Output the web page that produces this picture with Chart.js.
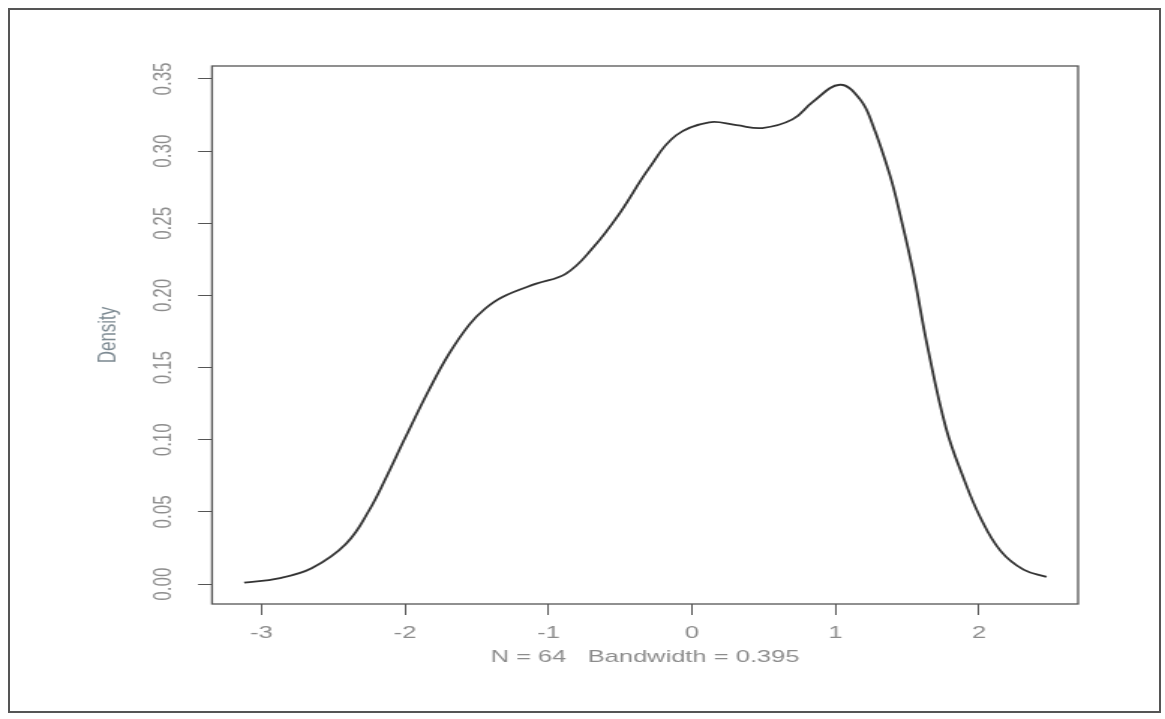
<!DOCTYPE html>
<html>
<head>
<meta charset="utf-8">
<script src="https://cdn.jsdelivr.net/npm/chart.js@4.4.1/dist/chart.umd.min.js"></script>
<style>
  html, body { margin: 0; padding: 0; background: #fff; }
  body { width: 1165px; height: 719px; position: relative; overflow: hidden; }
  #frame {
    position: absolute; left: 8px; top: 8px; width: 1153px; height: 705px;
    border: 2px solid #555; box-sizing: border-box;
  }
  /* the scan is stretched sideways, so the chart is drawn narrow and widened */
  #densityChart {
    position: absolute; left: 0; top: 0;
    transform: scaleX(1.49936); transform-origin: 0 0;
  }
</style>
</head>
<body>
<div id="frame"></div>
<canvas id="densityChart" width="777" height="719"></canvas>
<script>
// ── Data ──────────────────────────────────────────────────────────────────────
const densityX = [
  -3.12, -2.88, -2.65, -2.41, -2.25, -2.13, -2.00, -1.83, -1.69, -1.55,
  -1.44, -1.32, -1.09, -0.88, -0.69, -0.51, -0.30, -0.11, 0.12, 0.31,
  0.49, 0.70, 0.84, 1.03, 1.17, 1.26, 1.38, 1.45, 1.54, 1.64,
  1.77, 1.89, 2.01, 2.15, 2.31, 2.47,
];
const densityY = [
  0.001, 0.004, 0.011, 0.028, 0.051, 0.074, 0.101, 0.135, 0.160, 0.180,
  0.191, 0.199, 0.208, 0.215, 0.233, 0.256, 0.288, 0.311, 0.320, 0.318,
  0.316, 0.322, 0.334, 0.346, 0.336, 0.318, 0.283, 0.256, 0.217, 0.165,
  0.108, 0.074, 0.046, 0.023, 0.010, 0.005,
];
const xTicks = [-3, -2, -1, 0, 1, 2];
const yTicks = [0, 0.05, 0.10, 0.15, 0.20, 0.25, 0.30, 0.35];
const xLabel = 'N = 64   Bandwidth = 0.395';
const yLabel = 'Density';

const TEXT_FONT = 'Liberation Sans, Arial, sans-serif';
const TEXT_COLOR = '#8c8c8c';
const LINE_COLOR = '#555';

// ── Plugins ───────────────────────────────────────────────────────────────────

// R draws a full box round the plot region
const boxPlugin = {
  id: 'plotBox',
  afterDraw(chart) {
    const { ctx, chartArea: a } = chart;
    ctx.save();
    ctx.strokeStyle = LINE_COLOR;
    ctx.lineWidth = 1.3;
    ctx.strokeRect(a.left, a.top, a.right - a.left, a.bottom - a.top);
    ctx.restore();
  },
};

// y tick labels read bottom-to-top like R's default las=0
const yLabelPlugin = {
  id: 'rotatedYLabels',
  afterDraw(chart) {
    const { ctx, scales } = chart;
    const y = scales.y;
    ctx.save();
    ctx.fillStyle = TEXT_COLOR;
    ctx.font = `17px ${TEXT_FONT}`;
    ctx.textAlign = 'center';
    ctx.textBaseline = 'middle';
    yTicks.forEach(v => {
      ctx.save();
      ctx.translate(109.5, y.getPixelForValue(v));
      ctx.rotate(-Math.PI / 2);
      ctx.fillText(v.toFixed(2), 0, 0);
      ctx.restore();
    });
    ctx.restore();
  },
};

// ── Chart ─────────────────────────────────────────────────────────────────────

new Chart(document.getElementById('densityChart').getContext('2d'), {
  type: 'line',
  data: {
    datasets: [{
      data: densityX.map((x, i) => ({ x, y: densityY[i] })),
      borderColor: '#333',
      borderWidth: 1.8,
      pointRadius: 0,
      fill: false,
      tension: 0.4,
    }],
  },
  plugins: [boxPlugin, yLabelPlugin],
  options: {
    responsive: false,
    animation: false,
    events: [],
    layout: { padding: { left: 0, top: 66, right: 58, bottom: 0 } },
    plugins: { legend: { display: false }, tooltip: { enabled: false } },
    scales: {
      x: {
        type: 'linear',
        min: -3.344,
        max: 2.69,
        afterFit: s => { s.height = 115; },
        afterBuildTicks: s => { s.ticks = xTicks.map(value => ({ value })); },
        ticks: {
          color: TEXT_COLOR,
          font: { family: TEXT_FONT, size: 17 },
          padding: 8,
          maxRotation: 0,
          includeBounds: false,
          callback: v => String(v),
        },
        grid: {
          drawOnChartArea: false,
          drawTicks: true,
          tickLength: 11,
          tickColor: LINE_COLOR,
          tickWidth: 1,
        },
        border: { display: false },
        title: {
          display: true,
          text: xLabel,
          color: TEXT_COLOR,
          font: { family: TEXT_FONT, size: 17 },
          padding: { top: 0, bottom: 51 },
        },
      },
      y: {
        type: 'linear',
        min: -0.0138,
        max: 0.359,
        afterFit: s => { s.width = 141.4; },
        afterBuildTicks: s => { s.ticks = yTicks.map(value => ({ value })); },
        ticks: { display: false },
        grid: {
          drawOnChartArea: false,
          drawTicks: true,
          tickLength: 9.3,
          tickColor: LINE_COLOR,
          tickWidth: 1,
        },
        border: { display: false },
        title: {
          display: true,
          text: yLabel,
          color: '#7d8a92',
          font: { family: TEXT_FONT, size: 17 },
          padding: { top: 62, bottom: 0 },
        },
      },
    },
  },
});
</script>
</body>
</html>
